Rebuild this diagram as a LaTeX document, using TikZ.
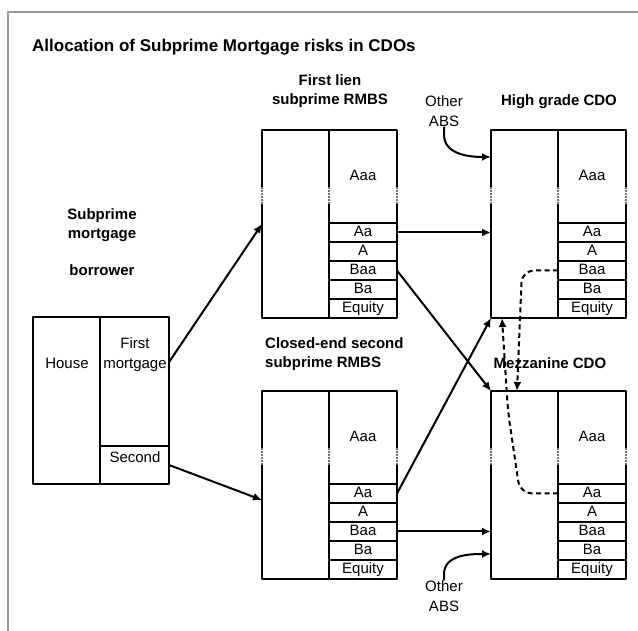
\documentclass[tikz,border=0pt]{standalone}
\usepackage{fontspec}
\setmainfont{Liberation Sans}
\usetikzlibrary{positioning,calc,arrows.meta}
\begin{document}
\begin{tikzpicture}[x=1pt,y=1pt,line join=round,>={Latex[length=9pt,width=8pt]},
	txt/.style={font=\fontsize{15}{20}\selectfont,align=center,inner sep=0pt},
	lbl/.style={font=\fontsize{15}{19}\selectfont\bfseries,align=center,inner sep=0pt},
	cell/.style={draw,line width=2pt,inner sep=0pt,outer sep=0pt,anchor=north west},
	pool/.style={cell,minimum width=67pt,minimum height=188pt},
	tranche/.style={cell,minimum width=68pt,minimum height=19pt,font=\fontsize{15}{17}\selectfont,text height=10.8pt,text depth=3pt},
	flow/.style={->,line width=2pt},
	swap/.style={->,line width=2pt,dash pattern=on 5pt off 3.5pt,rounded corners=12pt},
	brk/.style={line width=2pt,dash pattern=on 0.6pt off 0.9pt,draw=black!55}]
	\useasboundingbox (0,0) rectangle (638,631);
	\draw[black!40,line width=2pt] (8,0) -- (8,619) -- (638,619);
	\node[anchor=west,font=\fontsize{17}{20}\selectfont\bfseries,inner sep=0pt] (title) at (32,584) {Allocation of Subprime Mortgage risks in CDOs};
	% borrower
	\node[lbl] (borrower) at (102,389) {Subprime\\mortgage\\[18pt]borrower};
	\node[cell,minimum width=67pt,minimum height=167pt] (house) at (33,314) {};
	\node[cell,minimum width=69pt,minimum height=129pt] (fm) at (house.north east) {};
	\node[cell,minimum width=69pt,minimum height=38pt,below=0pt of fm] (sec) {};
	\node[txt] (housetxt) at (67,268) {House};
	\node[txt] (fmtxt) at (135,276) {First\\mortgage};
	\node[txt] (sectxt) at (135,174) {Second};
	% securities and tranches
	\foreach \nm/\px/\py in {r1/262/501, r2/262/240, hg/491/501, mz/491/240}{
		\node[pool] (\nm-pool) at (\px,\py) {};
		\node[tranche,minimum height=93pt] (\nm-aaa) at (\nm-pool.north east) {Aaa};
		\foreach \t/\lab [remember=\t as \prev (initially aaa)] in {aa/Aa, a/A, baa/Baa, ba/Ba, eq/Equity}
			\node[tranche,below=0pt of \nm-\prev] (\nm-\t) {\lab};
		\foreach \dx in {0,67,135}{
			\draw[white,line width=3.5pt] (\px+\dx,\py-57) -- ++(0,-17);
			\draw[brk] (\px+\dx,\py-57) -- ++(0,-17);
		}
	}
	\node[lbl] (r1-title) at (330,540) {First lien\\subprime RMBS};
	\node[lbl,anchor=west,align=left] (r2-title) at (265,277) {Closed-end second\\subprime RMBS};
	\node[lbl] (hg-title) at (559,529) {High grade CDO};
	\node[lbl] (mz-title) at (550,268) {Mezzanine CDO};
	\node[txt] (abs1) at (444,520) {Other\\ABS};
	\node[txt] (abs2) at (444,35) {Other\\ABS};
	% flows
	\draw[flow] ($(fm.north east)!0.35!(fm.south east)$) -- (r1-pool.west);
	\draw[flow] (sec.east) -- ($(r2-pool.north west)!0.58!(r2-pool.south west)$);
	\draw[flow] (r1-aa.east) -- (r1-aa.east -| hg-pool.west);
	\draw[flow] (r1-baa.east) -- (mz-pool.north west);
	\draw[flow] (r2-aa.east) -- (hg-pool.south west);
	\draw[flow] (r2-baa.east) -- (r2-baa.east -| mz-pool.west);
	\draw[flow] (abs1.south) -- ++(0,-8) to[out=-90,in=180] ($(hg-pool.north west)+(0,-27)$);
	\draw[flow] (abs2.north) -- ++(0,6) to[out=90,in=180] ($(mz-pool.south west)+(0,25)$);
	\draw[swap] (hg-baa.west) -- ++(-36,0) -- ($(mz-pool.north west)+(26,0)$);
	\draw[swap] (mz-aa.west) -- ++(-38,0) -- ++(-12,82) -- ($(hg-pool.south west)+(11,0)$);
\end{tikzpicture}
\end{document}
